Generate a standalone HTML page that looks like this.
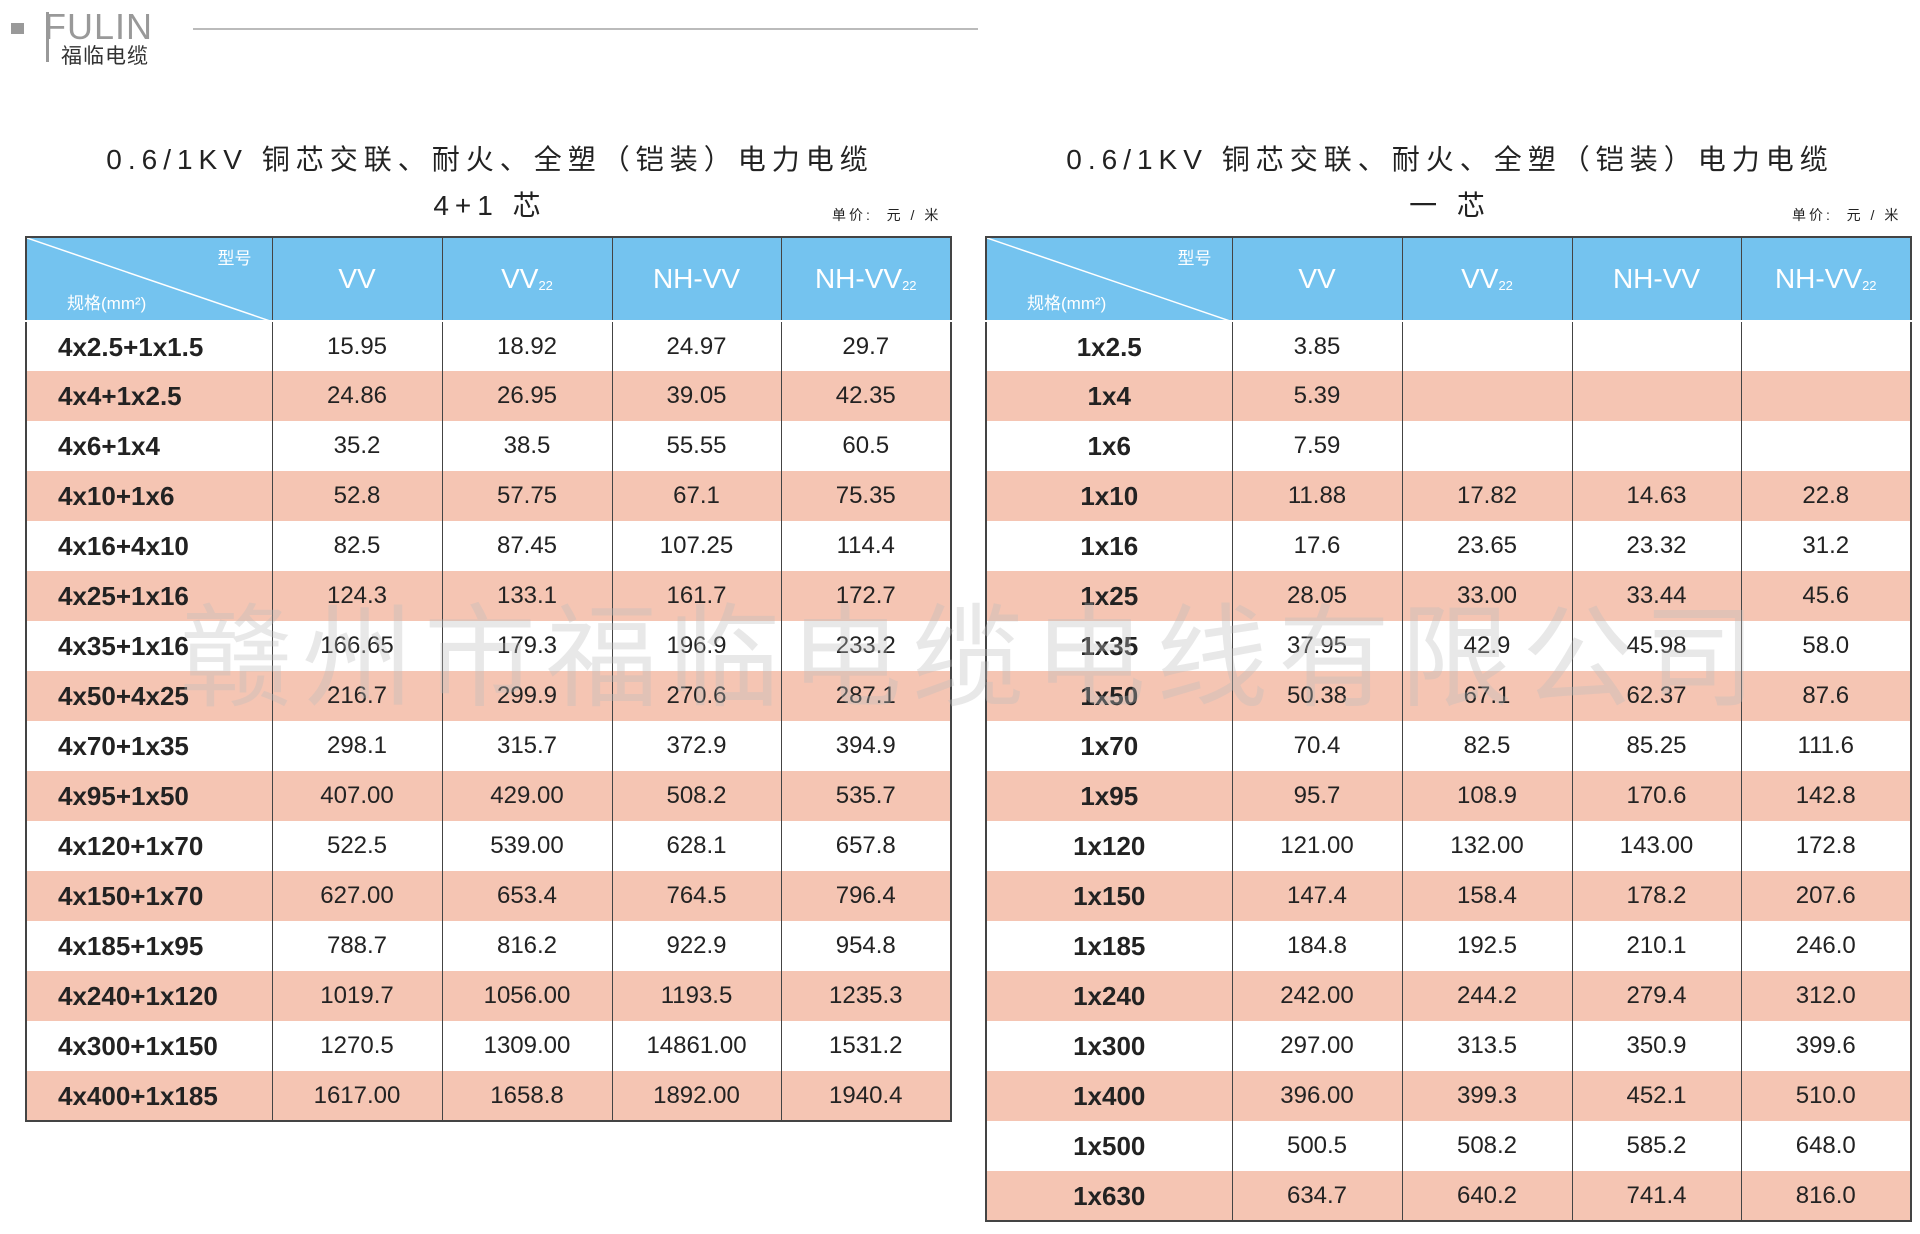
<!DOCTYPE html>
<html><head><meta charset="utf-8"><style>
body{margin:0;width:1920px;height:1234px;background:#fff;position:relative;overflow:hidden;font-family:"Liberation Sans","Noto Sans CJK SC",sans-serif;}
.abs{position:absolute;}
table{position:absolute;border-collapse:collapse;table-layout:fixed;border:2px solid #444;}
td{height:50px;box-sizing:border-box;line-height:1;padding:0;text-align:center;font-size:24px;color:#222;border-left:1.5px solid #444;border-right:1.5px solid #444;}
tr.h td{height:84px;background:#74c3ef;color:#fff;font-size:28px;border-bottom:2px solid #fff;border-left:1.5px solid #3a6f8f;}
tr:nth-child(odd):not(.h) td{background:#f5c5b3;}
td.f{font-weight:bold;font-size:26px;}
.L td.f{text-align:left;padding-left:31px;}
sub{font-size:13px;vertical-align:-2px;}
.title{font-size:28px;color:#222;letter-spacing:6px;text-align:center;}
.unit{font-size:14px;color:#222;letter-spacing:3px;}
</style></head><body>
<div class="abs" style="left:11px;top:23px;width:13px;height:11px;background:#999"></div>
<div class="abs" style="left:46px;top:12px;width:3px;height:50px;background:#999"></div>
<div class="abs" style="left:44px;top:6px;font-size:36px;color:#999;letter-spacing:1px">FULIN</div>
<div class="abs" style="left:61px;top:40px;font-size:21px;color:#333;letter-spacing:1px">福临电缆</div>
<div class="abs" style="left:193px;top:28px;width:785px;height:2px;background:#bbb"></div>

<div class="abs title" style="left:30px;top:138px;width:920px">0.6/1KV 铜芯交联、耐火、全塑（铠装）电力电缆</div>
<div class="abs title" style="left:30px;top:184px;width:920px">4+1 芯</div>
<div class="abs unit" style="left:832px;top:205px">单价:&nbsp;&nbsp;元 / 米</div>
<div class="abs title" style="left:990px;top:138px;width:920px">0.6/1KV 铜芯交联、耐火、全塑（铠装）电力电缆</div>
<div class="abs title" style="left:990px;top:184px;width:920px">一 芯</div>
<div class="abs unit" style="left:1792px;top:205px">单价:&nbsp;&nbsp;元 / 米</div>

<table class="L" style="left:25px;top:236px;width:925px">
<colgroup><col style="width:246px"><col style="width:170px"><col style="width:170px"><col style="width:169px"><col style="width:170px"></colgroup>
<tr class="h"><td style="position:relative;font-size:17px"><svg class="abs" style="left:0;top:0" width="246" height="84"><line x1="0" y1="0" x2="246" y2="84" stroke="#fff" stroke-width="1.5"/></svg><span class="abs" style="right:20px;top:12px">型号</span><span class="abs" style="left:40px;bottom:8px">规格(mm²)</span></td><td>VV</td><td>VV<sub>22</sub></td><td>NH-VV</td><td>NH-VV<sub>22</sub></td></tr>
<tr><td class="f">4x2.5+1x1.5</td><td>15.95</td><td>18.92</td><td>24.97</td><td>29.7</td></tr>
<tr><td class="f">4x4+1x2.5</td><td>24.86</td><td>26.95</td><td>39.05</td><td>42.35</td></tr>
<tr><td class="f">4x6+1x4</td><td>35.2</td><td>38.5</td><td>55.55</td><td>60.5</td></tr>
<tr><td class="f">4x10+1x6</td><td>52.8</td><td>57.75</td><td>67.1</td><td>75.35</td></tr>
<tr><td class="f">4x16+4x10</td><td>82.5</td><td>87.45</td><td>107.25</td><td>114.4</td></tr>
<tr><td class="f">4x25+1x16</td><td>124.3</td><td>133.1</td><td>161.7</td><td>172.7</td></tr>
<tr><td class="f">4x35+1x16</td><td>166.65</td><td>179.3</td><td>196.9</td><td>233.2</td></tr>
<tr><td class="f">4x50+4x25</td><td>216.7</td><td>299.9</td><td>270.6</td><td>287.1</td></tr>
<tr><td class="f">4x70+1x35</td><td>298.1</td><td>315.7</td><td>372.9</td><td>394.9</td></tr>
<tr><td class="f">4x95+1x50</td><td>407.00</td><td>429.00</td><td>508.2</td><td>535.7</td></tr>
<tr><td class="f">4x120+1x70</td><td>522.5</td><td>539.00</td><td>628.1</td><td>657.8</td></tr>
<tr><td class="f">4x150+1x70</td><td>627.00</td><td>653.4</td><td>764.5</td><td>796.4</td></tr>
<tr><td class="f">4x185+1x95</td><td>788.7</td><td>816.2</td><td>922.9</td><td>954.8</td></tr>
<tr><td class="f">4x240+1x120</td><td>1019.7</td><td>1056.00</td><td>1193.5</td><td>1235.3</td></tr>
<tr><td class="f">4x300+1x150</td><td>1270.5</td><td>1309.00</td><td>14861.00</td><td>1531.2</td></tr>
<tr><td class="f">4x400+1x185</td><td>1617.00</td><td>1658.8</td><td>1892.00</td><td>1940.4</td></tr>
</table>

<table style="left:985px;top:236px;width:925px">
<colgroup><col style="width:246px"><col style="width:170px"><col style="width:170px"><col style="width:169px"><col style="width:170px"></colgroup>
<tr class="h"><td style="position:relative;font-size:17px"><svg class="abs" style="left:0;top:0" width="246" height="84"><line x1="0" y1="0" x2="246" y2="84" stroke="#fff" stroke-width="1.5"/></svg><span class="abs" style="right:20px;top:12px">型号</span><span class="abs" style="left:40px;bottom:8px">规格(mm²)</span></td><td>VV</td><td>VV<sub>22</sub></td><td>NH-VV</td><td>NH-VV<sub>22</sub></td></tr>
<tr><td class="f">1x2.5</td><td>3.85</td><td></td><td></td><td></td></tr>
<tr><td class="f">1x4</td><td>5.39</td><td></td><td></td><td></td></tr>
<tr><td class="f">1x6</td><td>7.59</td><td></td><td></td><td></td></tr>
<tr><td class="f">1x10</td><td>11.88</td><td>17.82</td><td>14.63</td><td>22.8</td></tr>
<tr><td class="f">1x16</td><td>17.6</td><td>23.65</td><td>23.32</td><td>31.2</td></tr>
<tr><td class="f">1x25</td><td>28.05</td><td>33.00</td><td>33.44</td><td>45.6</td></tr>
<tr><td class="f">1x35</td><td>37.95</td><td>42.9</td><td>45.98</td><td>58.0</td></tr>
<tr><td class="f">1x50</td><td>50.38</td><td>67.1</td><td>62.37</td><td>87.6</td></tr>
<tr><td class="f">1x70</td><td>70.4</td><td>82.5</td><td>85.25</td><td>111.6</td></tr>
<tr><td class="f">1x95</td><td>95.7</td><td>108.9</td><td>170.6</td><td>142.8</td></tr>
<tr><td class="f">1x120</td><td>121.00</td><td>132.00</td><td>143.00</td><td>172.8</td></tr>
<tr><td class="f">1x150</td><td>147.4</td><td>158.4</td><td>178.2</td><td>207.6</td></tr>
<tr><td class="f">1x185</td><td>184.8</td><td>192.5</td><td>210.1</td><td>246.0</td></tr>
<tr><td class="f">1x240</td><td>242.00</td><td>244.2</td><td>279.4</td><td>312.0</td></tr>
<tr><td class="f">1x300</td><td>297.00</td><td>313.5</td><td>350.9</td><td>399.6</td></tr>
<tr><td class="f">1x400</td><td>396.00</td><td>399.3</td><td>452.1</td><td>510.0</td></tr>
<tr><td class="f">1x500</td><td>500.5</td><td>508.2</td><td>585.2</td><td>648.0</td></tr>
<tr><td class="f">1x630</td><td>634.7</td><td>640.2</td><td>741.4</td><td>816.0</td></tr>
</table>

<div class="abs" style="left:180px;top:568px;font-size:112px;color:rgba(190,190,190,0.35);white-space:nowrap;letter-spacing:10px">赣州市福临电缆电线有限公司</div>
</body></html>
